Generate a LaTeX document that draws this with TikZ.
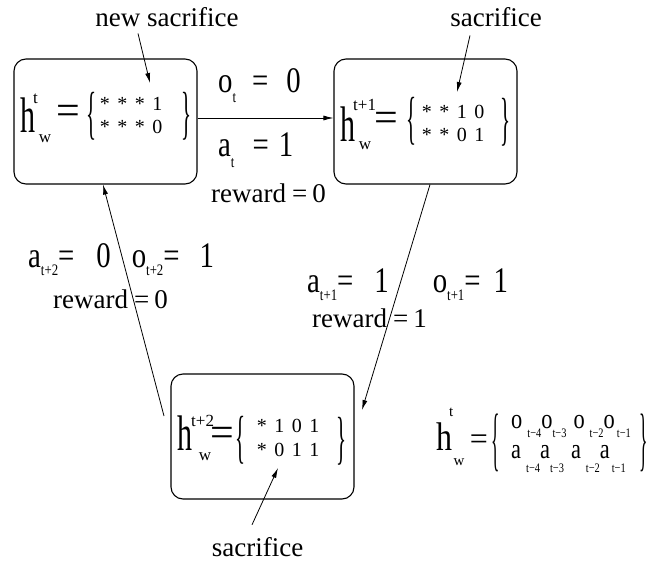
\documentclass[tikz,border=0pt]{standalone}
\usepackage{fontspec}
\setmainfont{Liberation Serif}
\newfontfamily\hfont[FakeStretch=0.6]{Liberation Serif}
\newfontfamily\lblfont[FakeStretch=0.8]{Liberation Serif}
\newfontfamily\slimfont[FakeStretch=0.36]{Liberation Serif}
\newfontfamily\thinfont[FakeStretch=0.25]{Liberation Serif}
\usetikzlibrary{arrows.meta}

\newcommand{\cells}[4]{\makebox[17.5pt]{#1}\makebox[17.5pt]{#2}\makebox[17.5pt]{#3}\makebox[17.5pt]{#4}}
\newcommand{\lowtxt}[2][8pt]{\raisebox{-#1}{\fontsize{16}{16}\selectfont #2}}
\newcommand{\legsub}[2][9pt]{\raisebox{-#1}{\fontsize{13}{13}\selectfont #2}}
\newcommand{\rwd}[1]{reward\hspace{6pt}=\hspace{5pt}#1}

\begin{document}
\begin{tikzpicture}[x=1pt,y=-1pt,
  every node/.style={inner sep=0pt},
  statebox/.style={draw,rounded corners=12pt,line width=1.1pt,minimum width=183pt,minimum height=125pt},
  link/.style={-{Latex[length=10pt,width=5pt]},line width=0.8pt},
  hletter/.style={anchor=base west,font=\hfont\fontsize{50}{50}\selectfont},
  hsup/.style={anchor=west,font=\fontsize{17}{17}\selectfont},
  hsub/.style={font=\fontsize{17}{17}\selectfont},
  heq/.style={font=\fontsize{42}{42}\selectfont},
  hbrace/.style={font=\slimfont\fontsize{58}{58}\selectfont},
  hrow/.style={anchor=west,font=\fontsize{20}{20}\selectfont},
  lbl/.style={anchor=base west,font=\lblfont\fontsize{36}{36}\selectfont},
  reward/.style={anchor=base west,font=\fontsize{27}{27}\selectfont},
  note/.style={anchor=base,font=\fontsize{27}{27}\selectfont}]
\useasboundingbox (0,0) rectangle (671,564);

%%% STATES %%%
\node [statebox] at (105.5,121.5) (s1) {};
\node [statebox] at (425.5,121.5) (s2) {};
\node [statebox] at (262.5,436.5) (s3) {};

%%% HISTORY t %%%
\node [hletter] at (20,133) (h1) {h};
\node [hsup] at (33,99) (h1t) {t};
\node [hsub] at (45,139) (h1w) {w};
\node [heq] at (68,115) (h1eq) {=};
\node [hbrace] at (92,116) (h1lb) {\{};
\node [hrow] at (96,104) (h1r1) {\cells{*}{*}{*}{1}};
\node [hrow] at (96,127) (h1r2) {\cells{*}{*}{*}{0}};
\node [hbrace] at (187,116) (h1rb) {\}};

%%% HISTORY t+1 %%%
\node [hletter] at (340,142) (h2) {h};
\node [hsup] at (353,105) (h2t) {t+1};
\node [hsub] at (365,146) (h2w) {w};
\node [heq] at (386,122) (h2eq) {=};
\node [hbrace] at (412,121) (h2lb) {\{};
\node [hrow] at (418,112) (h2r1) {\cells{*}{*}{1}{0}};
\node [hrow] at (418,135) (h2r2) {\cells{*}{*}{0}{1}};
\node [hbrace] at (506,122) (h2rb) {\}};

%%% HISTORY t+2 %%%
\node [hletter] at (177,450) (h3) {h};
\node [hsup] at (191,421) (h3t) {t+2};
\node [hsub] at (205,457) (h3w) {w};
\node [heq] at (222,437) (h3eq) {=};
\node [hbrace] at (241,440) (h3lb) {\{};
\node [hrow] at (253,426) (h3r1) {\cells{*}{1}{0}{1}};
\node [hrow] at (253,450) (h3r2) {\cells{*}{0}{1}{1}};
\node [hbrace] at (342,441) (h3rb) {\}};

%%% TRANSITIONS %%%
\node [lbl] at (218,93) (o0) {o\lowtxt[10pt]{t}\hspace{16pt}=\hspace{18pt}0};
\node [lbl] at (218,157) (a0) {a\lowtxt[11pt]{t}\hspace{18pt}=\hspace{10pt}1};
\node [reward] at (211,202) (r0) {\rwd{0}};

\node [lbl] at (307,292) (a1) {a\lowtxt{t+1}=\hspace{21pt}1\hspace{44pt}o\lowtxt{t+1}=\hspace{13pt}1};
\node [reward] at (312,327) (r1) {\rwd{1}};

\node [lbl] at (28,267) (a2) {a\lowtxt{t+2}=\hspace{22pt}0\hspace{21pt}o\lowtxt{t+2}=\hspace{20pt}1};
\node [reward] at (53,308) (r2) {\rwd{0}};

\coordinate (s3in) at (362,410);
\coordinate (s3out) at (164,416);
\draw [link] ([yshift=3.5pt]s1.east) -- ([yshift=3.5pt]s2.west);
\draw [link] ([xshift=4.5pt]s2.south) -- (s3in);
\draw [link] (s3out) -- ([xshift=-2.5pt]s1.south);

%%% SACRIFICES %%%
\node [note] at (167,27) (ns) {new sacrifice};
\node [note] at (496,27) (sc1) {sacrifice};
\node [note] at (257.5,556) (sc2) {sacrifice};
\coordinate (nstip) at (150,83);
\coordinate (sc1tip) at (457,92);
\coordinate (sc2tip) at (278,468);
\draw [link] ([xshift=-29pt,yshift=-6pt]ns.south) -- (nstip);
\draw [link] ([xshift=-26pt,yshift=-8pt]sc1.south) -- (sc1tip);
\draw [link] ([xshift=-5.5pt,yshift=12pt]sc2.north) -- (sc2tip);

%%% LEGEND %%%
\node [anchor=base west,font=\lblfont\fontsize{40}{40}\selectfont] at (436,450) (hl) {h};
\node [hsup,font=\fontsize{15}{15}\selectfont] at (449,412) (hlt) {t};
\node [font=\fontsize{15}{15}\selectfont] at (459,462) (hlw) {w};
\node [font=\fontsize{32}{32}\selectfont] at (479,442) (hleq) {=};
\node [font=\thinfont\fontsize{70}{70}\selectfont] at (496,443) (hllb) {\{};
\node [anchor=base west,font=\lblfont\fontsize{28}{28}\selectfont] at (511,428) (hlo)
  {o\hspace{5pt}\legsub{t−4}o\legsub{t−3}\hspace{7pt}o\hspace{5pt}\legsub{t−2}o\hspace{2pt}\legsub{t−1}};
\node [anchor=base west,font=\lblfont\fontsize{28}{28}\selectfont] at (511,458) (hla)
  {a\hspace{5pt}\legsub[14pt]{t−4}a\legsub[14pt]{t−3}\hspace{7pt}a\hspace{5pt}\legsub[14pt]{t−2}a\hspace{2pt}\legsub[14pt]{t−1}};
\node [font=\thinfont\fontsize{70}{70}\selectfont] at (644,443) (hlrb) {\}};
\end{tikzpicture}
\end{document}
